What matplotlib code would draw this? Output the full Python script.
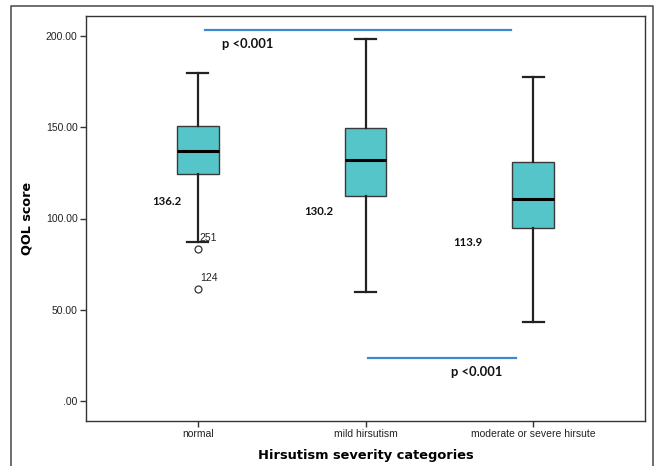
import matplotlib
matplotlib.use("Agg")
import matplotlib.pyplot as plt
from matplotlib.lines import Line2D

# data
categories = ["normal", "mild hirsutism", "moderate or severe hirsute"]
whis_low = [87.2, 59.6, 43.1]
q1 = [124.2, 112.6, 94.9]
medians = [137.0, 131.9, 110.8]
q3 = [150.8, 149.8, 130.8]
whis_high = [180.0, 198.7, 177.8]
fliers = [[83.4, 61.4], [], []]
flier_ids = [["251", "124"], [], []]
mean_labels = ["136.2", "130.2", "113.9"]
p_labels = ["p <0.001", "p <0.001"]
yticks = [0, 50, 100, 150, 200]
ytick_labels = [".00", "50.00", "100.00", "150.00", "200.00"]

W, H = 657, 466
fig = plt.figure(figsize=(W / 100, H / 100), dpi=100)
ax = fig.add_axes([86 / W, (H - 421) / H, 559 / W, 405 / H])

stats = []
for i in range(len(categories)):
    stats.append({"whislo": whis_low[i], "q1": q1[i], "med": medians[i],
                  "q3": q3[i], "whishi": whis_high[i], "fliers": fliers[i]})

pos = [1, 2, 3]
ax.bxp(stats, positions=pos, widths=0.25, patch_artist=True, showfliers=True,
       boxprops=dict(facecolor="#55c5ca", edgecolor="#3a3a3a", linewidth=1.0),
       medianprops=dict(color="black", linewidth=2.2),
       whiskerprops=dict(color="#222222", linewidth=1.6),
       capprops=dict(color="#222222", linewidth=1.6),
       capwidths=0.125,
       flierprops=dict(marker="o", markersize=5, markerfacecolor="white",
                       markeredgecolor="#333333", markeredgewidth=0.9))

ax.set_xlim(0.333, 3.667)
ax.set_ylim(-11.1, 211.1)
ax.set_xticks(pos)
ax.set_xticklabels(categories, fontsize=7.5, family="Liberation Sans", color="#222222")
ax.set_yticks(yticks)
ax.set_yticklabels(ytick_labels, fontsize=7.5, family="Liberation Sans", color="#222222")
ax.tick_params(axis="both", direction="out", length=4, width=1, color="#333333", pad=2)
for s in ax.spines.values():
    s.set_color("#333333")
    s.set_linewidth(1.0)

ax.set_ylabel("QOL score", fontsize=9.2, fontweight="bold", family="DejaVu Sans", labelpad=9)
ax.set_xlabel("Hirsutism severity categories", fontsize=9.4, fontweight="bold",
              family="DejaVu Sans", labelpad=7)

# outlier case numbers
for i, ids in enumerate(flier_ids):
    for v, lab in zip(fliers[i], ids):
        ax.text(pos[i] + 0.012, v + 6, lab, fontsize=7.5, family="Liberation Sans",
                color="#222222", va="center", ha="left")

# mean values
mean_offsets = [(-0.185, 109.1), (-0.277, 103.6), (-0.392, 86.6)]
for i, lab in enumerate(mean_labels):
    dx, y = mean_offsets[i]
    ax.text(pos[i] + dx, y, lab, fontsize=8.2, fontweight="bold", family="Lato",
            ha="center", va="center", color="#111111")

# significance lines
ax.plot([1.041, 2.867], [203.3, 203.3], color="#3f88d0", linewidth=1.6)
ax.plot([2.016, 2.897], [23.7, 23.7], color="#3f88d0", linewidth=1.6)
ax.text(1.294, 195.8, p_labels[0], fontsize=9.3, fontweight="bold", family="Lato",
        ha="center", va="center", color="#111111")
ax.text(2.664, 15.9, p_labels[1], fontsize=9.3, fontweight="bold", family="Lato",
        ha="center", va="center", color="#111111")

# outer frame (left, top, right)
fx0, fx1, fy = 11 / W, 653 / W, 1 - 6 / H
fig.add_artist(Line2D([fx0, fx0, fx1, fx1], [0, fy, fy, 0],
                      transform=fig.transFigure, color="#555555", linewidth=1.2))

fig.savefig("out.png", dpi=100)
